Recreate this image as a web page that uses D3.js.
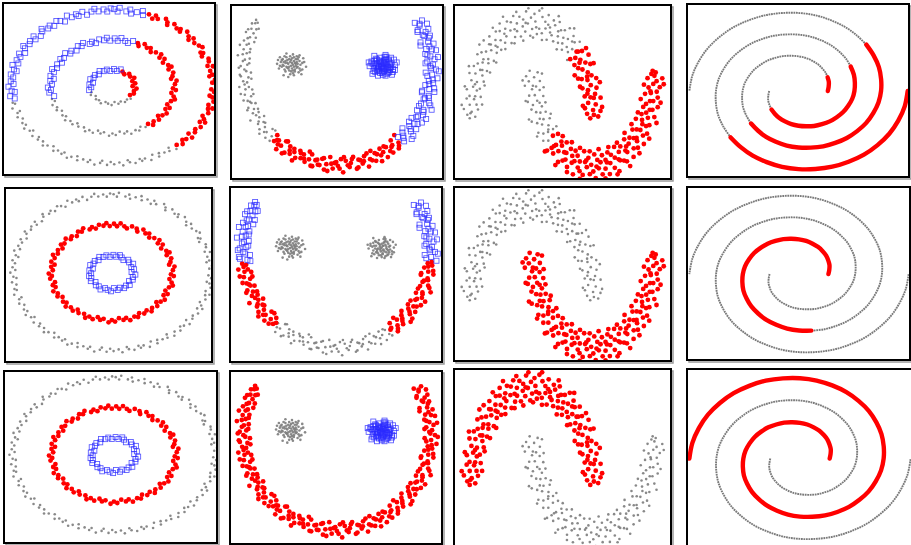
<!DOCTYPE html>
<html><head><meta charset="utf-8">
<script src="https://cdn.jsdelivr.net/npm/d3@7"></script>
<style>html,body{margin:0;padding:0;background:#fff;}svg{display:block;}</style>
</head><body>
<script>
// ---------- DATA ----------
// Column 1: three noisy rings, points as [compass angle (deg), radius]
const ringOuter = [[1,10.1],[3,9.8],[4,10.3],[8,9.9],[10,10.2],[11,9.7],[14,10.0],[17,10.3],[18,9.8],[21,10.1],[24,9.7],[25,10.2],[27,9.9],[31,10.3],[33,10.0],[34,9.7],[37,10.2],[40,9.9],[42,10.1],[43,9.8],[46,10.3],[49,10.0],[51,9.7],[52,10.2],[55,9.9],[58,10.1],[60,10.3],[63,9.8],[64,10.0],[66,9.7],[69,10.2],[71,10.1],[74,9.8],[75,10.3],[78,9.9],[81,10.0],[82,9.7],[85,10.2],[87,9.9],[90,10.3],[92,9.8],[94,10.1],[97,9.7],[98,10.0],[101,10.2],[104,9.8],[106,10.3],[107,9.9],[110,10.1],[113,9.7],[115,10.0],[117,10.3],[118,9.8],[121,10.2],[124,9.9],[126,10.1],[129,9.7],[130,10.3],[133,10.0],[135,9.8],[137,10.2],[140,9.9],[142,10.3],[145,9.7],[146,10.1],[149,10.0],[152,9.8],[153,10.2],[156,9.7],[158,10.3],[161,9.9],[163,10.1],[164,9.8],[167,10.2],[170,10.0],[171,9.7],[174,10.3],[176,9.9],[179,10.1],[181,9.8],[183,10.2],[186,9.7],[187,10.0],[190,10.3],[193,9.8],[194,10.1],[197,9.9],[200,10.2],[201,9.7],[204,10.0],[206,10.3],[209,9.8],[210,10.1],[213,9.9],[215,10.2],[217,9.7],[220,10.0],[222,10.3],[224,9.9],[227,10.1],[228,9.8],[231,10.2],[234,9.7],[235,10.0],[238,10.3],[240,9.9],[242,10.1],[245,9.8],[247,10.2],[250,10.0],[251,9.7],[254,10.3],[257,9.9],[258,10.1],[261,9.8],[263,10.2],[266,9.7],[267,10.0],[270,10.3],[272,9.8],[274,10.1],[277,9.9],[279,10.2],[282,9.7],[283,10.0],[286,10.3],[288,9.8],[290,10.1],[293,9.9],[295,10.2],[297,9.7],[300,10.0],[301,10.3],[304,9.9],[306,10.1],[309,9.8],[310,10.2],[313,9.7],[316,10.0],[317,10.3],[320,9.9],[322,10.1],[324,9.8],[327,10.2],[329,10.0],[331,9.7],[334,10.3],[336,9.9],[339,10.1],[340,9.8],[343,10.2],[345,9.7],[348,10.0],[350,10.3],[352,9.9],[355,10.1],[357,9.8],[359,10.2]];
const ringMiddle = [[2,6.3],[5,6.0],[8,6.4],[12,6.1],[15,5.9],[19,6.3],[24,6.2],[26,5.9],[30,6.4],[34,6.1],[37,6.3],[40,5.9],[44,6.2],[49,6.4],[51,6.0],[55,6.3],[58,5.9],[63,6.2],[66,6.4],[68,6.0],[73,6.3],[77,6.1],[80,5.9],[83,6.4],[87,6.2],[92,6.0],[94,6.3],[98,5.9],[102,6.2],[105,6.4],[108,6.1],[113,5.9],[116,6.3],[119,6.0],[123,6.4],[127,6.2],[130,5.9],[133,6.3],[138,6.1],[141,6.4],[144,6.0],[148,6.2],[152,5.9],[155,6.3],[158,6.1],[163,6.4],[166,6.0],[169,6.2],[173,5.9],[177,6.3],[180,6.1],[183,6.4],[188,6.0],[191,6.2],[194,5.9],[198,6.3],[202,6.1],[205,6.4],[208,6.0],[213,6.2],[216,5.9],[219,6.3],[223,6.1],[227,6.4],[230,6.0],[233,6.2],[238,5.9],[241,6.3],[244,6.1],[248,6.4],[252,6.0],[255,6.2],[258,5.9],[263,6.3],[266,6.1],[269,6.4],[273,6.0],[277,6.2],[280,5.9],[283,6.3],[288,6.1],[291,6.4],[294,6.0],[298,6.2],[302,5.9],[305,6.3],[308,6.1],[313,6.4],[316,6.0],[319,6.2],[323,5.9],[327,6.3],[330,6.1],[333,6.4],[338,6.0],[341,6.2],[344,5.9],[348,6.3],[352,6.1],[355,6.4],[358,6.0]];
const ringInner = [[4,2.3],[12,2.1],[20,2.4],[27,2.2],[36,2.0],[45,2.35],[53,2.2],[62,2.45],[70,2.1],[79,2.3],[88,2.0],[96,2.4],[105,2.2],[113,2.3],[122,2.05],[131,2.4],[139,2.2],[148,2.35],[157,2.1],[165,2.3],[174,2.0],[182,2.4],[191,2.25],[199,2.1],[208,2.45],[217,2.2],[225,2.3],[234,2.05],[243,2.4],[251,2.2],[259,2.35],[268,2.1],[277,2.3],[285,2.0],[294,2.4],[302,2.2],[311,2.3],[320,2.1],[328,2.4],[337,2.2],[346,2.3],[354,2.05]];
// cluster labels per row: [fromAngle, toAngle, class]  (g = grey, r = red, b = blue)
const ringLabels = [
  {outer:[[0,18,'b'],[18,140,'r'],[140,260,'g'],[260,360,'b']], middle:[[0,23,'b'],[23,145,'r'],[145,257,'g'],[257,360,'b']], inner:[[0,25,'b'],[25,125,'r'],[125,255,'g'],[255,360,'b']]},
  {outer:[[0,360,'g']], middle:[[0,360,'r']], inner:[[0,360,'b']]},
  {outer:[[0,360,'g']], middle:[[0,360,'r']], inner:[[0,360,'b']]}
];

// Column 2: smiley. mouth = [compass angle, radius]; eyes = [dx, dy] around eye centres
const mouth = [[59,9.6],[60,10.4],[62,9.9],[63,10.7],[65,9.4],[67,10.2],[68,9.8],[70,10.5],[72,9.3],[73,10.1],[75,10.6],[77,9.7],[78,10.3],[80,9.5],[82,10.0],[83,10.8],[85,9.6],[87,10.2],[88,9.9],[90,10.5],[92,9.4],[93,10.1],[95,10.7],[97,9.8],[98,10.3],[100,9.5],[102,10.0],[103,10.6],[105,9.3],[107,10.2],[108,9.8],[110,10.4],[112,9.6],[113,10.9],[115,10.1],[117,9.5],[118,10.3],[120,9.9],[122,10.6],[123,9.4],[125,10.0],[127,10.5],[128,9.7],[130,10.2],[132,9.3],[133,10.8],[135,9.9],[137,10.4],[138,9.6],[140,10.1],[142,10.6],[143,9.4],[145,10.0],[147,10.3],[148,9.7],[150,10.7],[152,9.5],[153,10.2],[155,9.9],[157,10.5],[158,9.3],[160,10.1],[162,10.8],[163,9.6],[165,10.3],[167,9.8],[168,10.6],[170,9.4],[172,10.0],[173,10.4],[175,9.7],[177,10.9],[178,9.5],[180,10.2],[182,9.9],[183,10.5],[185,9.3],[187,10.1],[188,10.7],[190,9.6],[192,10.3],[193,9.8],[195,10.6],[197,9.4],[198,10.0],[200,10.4],[202,9.7],[203,10.2],[205,9.5],[207,10.8],[208,9.9],[210,10.3],[212,9.6],[213,10.5],[215,9.3],[217,10.1],[218,10.7],[220,9.8],[222,10.2],[223,9.5],[225,10.0],[227,10.6],[228,9.4],[230,10.3],[232,9.9],[233,10.5],[235,9.7],[237,10.1],[238,9.3],[240,10.8],[242,9.6],[243,10.2],[245,9.9],[247,10.4],[248,9.5],[250,10.0],[252,10.6],[253,9.7],[255,10.3],[257,9.4],[258,10.1],[260,10.7],[262,9.8],[263,10.2],[265,9.6],[267,10.5],[268,9.3],[270,10.0],[272,10.4],[273,9.7],[275,10.2],[277,9.5],[278,10.8],[280,9.9],[282,10.3],[283,9.6],[285,10.1],[287,10.5],[288,9.4],[290,10.0],[292,10.6],[293,9.8],[295,10.2],[297,9.5],[298,10.4],[300,9.9],[301,10.2],
  [61,10.0],[64,9.5],[66,10.6],[69,9.9],[71,10.3],[74,9.2],[76,10.1],[79,10.7],[81,9.7],[84,10.4],[86,9.4],[89,10.0],[91,10.8],[94,9.6],[96,10.2],[99,9.9],[101,10.5],[104,9.3],[106,10.1],[109,9.7],[111,10.6],[114,9.5],[116,10.2],[119,10.8],[121,9.8],[124,10.3],[126,9.4],[129,10.0],[131,10.7],[134,9.6],[136,10.1],[139,9.2],[141,10.4],[144,9.9],[146,10.6],[149,9.5],[151,10.0],[154,10.8],[156,9.7],[159,10.3],[161,9.4],[164,10.1],[166,9.9],[169,10.7],[171,9.6],[174,10.2],[176,9.3],[179,10.5],[181,9.8],[184,10.0],[186,10.8],[189,9.5],[191,10.3],[194,9.9],[196,10.6],[199,9.2],[201,10.1],[204,9.7],[206,10.4],[209,9.6],[211,10.0],[214,10.7],[216,9.4],[219,10.2],[221,9.9],[224,10.5],[226,9.3],[229,10.1],[231,10.8],[234,9.6],[236,10.3],[239,9.8],[241,10.0],[244,9.5],[246,10.6],[249,9.9],[251,10.2],[254,9.4],[256,10.7],[259,9.7],[261,10.1],[264,9.3],[266,10.4],[269,9.8],[271,10.6],[274,9.5],[276,10.0],[279,10.3],[281,9.6],[284,10.8],[286,9.9],[289,10.2],[291,9.4],[294,10.5],[296,9.7],[299,10.1]];
const leftEyeCentre = [-5.0, 0.5];
const rightEyeCentre = [4.8, 0.35];
const leftEye = [[0.1,0.2],[-0.4,0.5],[0.6,-0.3],[-0.8,-0.1],[0.3,0.8],[-0.2,-0.6],[0.9,0.4],[-1.1,0.3],[0.5,0.1],[-0.5,-0.2],[0.2,-0.9],[1.2,-0.5],[-0.7,0.9],[0.0,-0.1],[0.7,0.6],[-1.3,-0.4],[0.4,-0.5],[-0.3,0.1],[1.0,0.0],[-0.9,0.6],[0.2,1.1],[-0.1,-1.0],[0.8,-0.8],[-0.6,-0.7],[1.4,0.3],[-1.5,0.1],[0.3,0.4],[-0.4,-0.3],[0.6,0.9],[-0.2,0.6],[1.1,-1.0],[-0.8,-1.1],[0.0,0.5],[0.5,-0.1],[-1.0,-0.2],[0.9,1.0],[-0.5,1.2],[0.1,-0.4],[-0.3,-1.3],[1.3,0.7],[-1.2,0.8],[0.4,0.2],[-0.1,0.3],[0.7,-0.2],[-0.6,0.2],[0.2,-0.6],[1.6,-0.2],
  [0.3,-0.2],[-0.6,0.4],[0.9,-0.4],[-1.0,0.5],[0.1,0.7],[-0.3,-0.4],[0.6,0.3],[-0.7,-0.5],[0.4,-0.7],[-0.1,0.9],[1.2,0.2],[-1.2,-0.1],[0.7,0.1],[-0.4,0.2],[0.0,-0.7],[0.5,0.6],[-0.9,0.0],[1.0,-0.6],[-0.5,0.8],[0.2,0.0],[-0.2,-0.2],[0.8,0.8],[-1.4,0.5],[0.3,-1.1],[-0.8,0.3]];
const rightEye = [[0.0,0.1],[0.5,-0.4],[-0.6,0.3],[0.8,0.2],[-0.3,-0.7],[0.2,0.6],[-0.9,-0.2],[1.1,-0.6],[-0.4,0.0],[0.4,0.4],[-0.1,-0.3],[0.9,0.9],[-1.2,0.5],[0.3,-1.0],[-0.7,0.8],[0.6,-0.1],[-0.2,0.4],[1.3,0.1],[-1.0,-0.5],[0.1,-0.6],[0.7,0.5],[-0.5,-1.0],[0.2,1.0],[-1.4,0.0],[1.0,-0.9],[-0.2,-0.1],[0.5,0.2],[-0.8,0.3],[0.3,-0.3],[-0.3,0.9],[1.5,0.4],[-0.6,-0.4],[0.8,-0.4],[0.0,-0.9],[-1.1,-0.8],[0.4,0.8],[-0.4,0.6],[1.2,0.7],[0.1,0.3],[-0.9,1.1],[0.6,-0.7],[-0.1,0.0],[0.9,-0.1],[-1.5,0.4],[0.3,1.2],[0.1,-0.2],[-0.5,-0.1],
  [0.2,0.3],[-0.4,-0.5],[0.7,-0.2],[-0.7,0.0],[0.3,0.7],[-0.2,0.2],[0.6,0.7],[-1.0,0.2],[0.9,0.3],[-0.5,-0.3],[0.1,-0.5],[1.1,-0.3],[-0.8,-0.6],[0.4,-0.8],[-0.3,0.5],[0.5,0.0],[-0.6,0.7],[1.3,-0.4],[-1.2,0.3],[0.0,0.5],[0.7,-0.6],[-0.1,-0.7],[0.4,1.0],[-0.9,0.6],[0.2,-0.1]];
const smileyLabels = [
  {mouth:[[58,138,'b'],[138,223,'r'],[223,302,'g']], leftEye:'g', rightEye:'b'},
  {mouth:[[58,95,'b'],[95,145,'r'],[145,220,'g'],[220,263,'r'],[263,302,'b']], leftEye:'g', rightEye:'g'},
  {mouth:[[58,302,'r']], leftEye:'g', rightEye:'b'}
];

// Column 3: two moons, points as [angle (deg, counter-clockwise), radius]
const upperMoonCentre = [0, 0];
const lowerMoonCentre = [1, 0.5];
const upperMoon = [[0,0.95],[1,1.08],[3,0.9],[4,1.12],[5,1.0],[7,0.87],[8,1.05],[10,0.93],[11,1.14],[13,0.98],[14,1.06],[15,0.89],[17,1.1],[18,0.96],[20,1.02],[21,0.88],[22,1.13],[24,0.99],[25,1.07],[27,0.91],[28,1.03],[29,0.86],[31,1.11],[32,0.97],[34,1.05],[35,0.92],[36,1.14],[38,1.0],[39,0.89],[41,1.08],[42,0.95],[43,1.03],[45,0.88],[46,1.12],[48,0.98],[49,1.06],[50,0.91],[52,1.1],[53,0.94],[55,1.02],[56,0.87],[57,1.13],[59,0.99],[60,1.07],[62,0.9],[63,1.04],[64,0.96],[66,1.11],[67,0.88],[69,1.05],[70,0.93],[71,1.09],[73,1.0],[74,0.86],[76,1.12],[77,0.97],[78,1.04],[80,0.91],[81,1.08],[83,0.95],[84,1.14],[85,0.89],[87,1.02],[88,1.1],[90,0.94],[91,1.06],[92,0.87],[94,1.0],[95,1.13],[97,0.92],[98,1.05],[99,0.98],[101,1.09],[102,0.88],[104,1.03],[105,0.95],[106,1.12],[108,0.9],[109,1.07],[111,0.99],[112,1.1],[113,0.86],[115,1.04],[116,0.96],[118,1.13],[119,0.91],[120,1.06],[122,0.97],[123,1.09],[125,0.88],[126,1.02],[127,0.94],[129,1.11],[130,0.9],[132,1.05],[133,0.98],[134,1.14],[136,0.87],[137,1.03],[139,0.95],[140,1.08],[141,0.92],[143,1.12],[144,1.0],[146,0.89],[147,1.06],[148,0.96],[150,1.1],[151,0.93],[153,1.04],[154,0.88],[155,1.13],[157,0.98],[158,1.07],[160,0.91],[161,1.02],[162,0.95],[164,1.11],[165,0.87],[167,1.05],[168,0.97],[169,1.09],[171,0.92],[172,1.03],[174,0.89],[175,1.12],[176,0.99],[178,1.06],[179,0.93],[180,1.02],
  [2,1.01],[6,1.15],[9,0.84],[12,1.03],[16,0.94],[19,1.17],[23,0.85],[26,1.0],[30,1.16],[33,0.83],[37,0.97],[40,1.15],[44,1.01],[47,0.84],[51,1.04],[54,1.17],[58,0.93],[61,0.83],[65,1.01],[68,1.16],[72,0.95],[75,1.02],[79,0.84],[82,1.17],[86,0.96],[89,0.85],[93,1.16],[96,1.01],[100,0.83],[103,1.15],[107,0.98],[110,0.84],[114,1.17],[117,1.0],[121,0.85],[124,1.15],[128,0.97],[131,1.03],[135,0.83],[138,1.16],[142,1.01],[145,0.84],[149,0.99],[152,1.17],[156,0.85],[159,1.0],[163,1.15],[166,0.96],[170,0.83],[173,1.16],[177,1.01]];
const lowerMoon = [[180,1.04],[181,0.91],[183,1.1],[184,0.97],[186,1.06],[187,0.88],[188,1.13],[190,0.95],[191,1.02],[193,0.9],[194,1.08],[195,0.99],[197,1.12],[198,0.86],[200,1.05],[201,0.94],[202,1.09],[204,0.92],[205,1.03],[207,0.97],[208,1.14],[209,0.89],[211,1.07],[212,0.96],[214,1.01],[215,0.87],[216,1.11],[218,0.93],[219,1.05],[221,0.98],[222,1.1],[223,0.9],[225,1.04],[226,0.95],[228,1.13],[229,0.88],[230,1.06],[232,0.99],[233,1.09],[235,0.91],[236,1.02],[237,0.94],[239,1.12],[240,0.87],[242,1.07],[243,0.97],[244,1.04],[246,0.9],[247,1.1],[249,0.96],[250,1.03],[251,0.89],[253,1.14],[254,0.93],[256,1.05],[257,0.98],[258,1.08],[260,0.86],[261,1.11],[263,0.95],[264,1.02],[265,0.92],[267,1.09],[268,0.99],[270,1.06],[271,0.88],[272,1.13],[274,0.94],[275,1.03],[277,0.97],[278,1.1],[279,0.9],[281,1.05],[282,0.96],[284,1.12],[285,0.89],[286,1.01],[288,0.93],[289,1.08],[291,0.98],[292,1.14],[293,0.87],[295,1.04],[296,0.95],[298,1.07],[299,0.91],[300,1.1],[302,0.99],[303,1.02],[305,0.88],[306,1.12],[307,0.96],[309,1.05],[310,0.92],[312,1.09],[313,0.97],[314,1.03],[316,0.89],[317,1.13],[319,0.94],[320,1.06],[321,0.99],[323,1.1],[324,0.86],[326,1.04],[327,0.95],[328,1.08],[330,0.91],[331,1.02],[333,0.97],[334,1.11],[335,0.9],[337,1.05],[338,0.93],[340,1.12],[341,0.98],[342,1.03],[344,0.88],[345,1.09],[347,0.96],[348,1.06],[349,0.92],[351,1.1],[352,0.99],[354,1.04],[355,0.89],[356,1.13],[358,0.95],[359,1.02],[360,0.97],
  [182,0.84],[185,1.16],[189,1.0],[192,0.83],[196,1.15],[199,0.97],[203,0.85],[206,1.17],[210,1.01],[213,0.83],[217,1.15],[220,0.96],[224,0.84],[227,1.16],[231,1.02],[234,0.85],[238,1.17],[241,0.98],[245,0.83],[248,1.15],[252,1.0],[255,0.84],[259,1.16],[262,0.97],[266,0.85],[269,1.17],[273,1.01],[276,0.83],[280,1.15],[283,0.99],[287,0.84],[290,1.16],[294,1.02],[297,0.85],[301,1.17],[304,0.96],[308,0.83],[311,1.15],[315,1.0],[318,0.84],[322,1.16],[325,0.98],[329,0.85],[332,1.17],[336,1.01],[339,0.83],[343,1.15],[346,0.97],[350,0.84],[353,1.16],[357,1.0]];
const moonLabels = [
  {upper:[[0,45,'r'],[45,180,'g']], lower:[[180,225,'g'],[225,360,'r']]},
  {upper:[[0,180,'g']], lower:[[180,360,'r']]},
  {upper:[[0,180,'r']], lower:[[180,360,'g']]}
];

// Column 4: two interleaved spirals (arm B = arm A turned by 180 deg); readings [angle, radius]
const spiralTheta = [0,10,20,30,40,50,60,70,80,90,100,110,120,130,140,150,160,170,180,190,200,210,220,230,240,250,260,270,280,290,300,310,320,330,340,350,360,370,380,390,400,410,420,430,440,450,460,470,480,490,500,510,520,530,540];
const spiralR = [8.8,9.2,9.7,10.1,10.6,11.0,11.5,11.9,12.4,12.8,13.2,13.7,14.1,14.6,15.0,15.5,15.9,16.4,16.8,17.2,17.7,18.1,18.6,19.0,19.5,19.9,20.4,20.8,21.2,21.7,22.1,22.6,23.0,23.5,23.9,24.4,24.8,25.2,25.7,26.1,26.6,27.0,27.5,27.9,28.4,28.8,29.2,29.7,30.1,30.6,31.0,31.5,31.9,32.4,32.8];
const spiralArmTurn = {A:0, B:180};
const spiralLabels = [
  {A:[[0,30,'r'],[30,220,'g'],[220,400,'r'],[400,540,'g']], B:[[0,40,'g'],[40,210,'r'],[210,400,'g'],[400,540,'r']]},
  {A:[[0,280,'r'],[280,540,'g']], B:[[0,540,'g']]},
  {A:[[0,540,'r']], B:[[0,540,'g']]}
];

// ---------- LAYOUT ----------
const W = 911, H = 545;
const boxes = [
  [[3,3,215,175],[231,5,443,179],[454,5,671,179],[687,4,909,177]],
  [[5,188,212,362],[230,187,442,362],[454,187,671,361],[687,187,910,360]],
  [[4,371,217,543],[230,371,442,544],[454,369,671,547],[687,369,912,547]]
];
const colDomains = [
  {x:[-10.84,10.16], y:[10.9,-11.5]},
  {x:[-11.43,11.25], y:[6.83,-11.59]},
  {x:[-1.277,2.27], y:[1.193,-0.639]},
  {x:[-33.5,33.2], y:[32.1,-31.7]}
];
const colour = {g:'#7c7c7c', r:'#ff0000', b:'#2a2aff'};
const RAD = Math.PI/180;

function segClass(segs, a){
  for (const s of segs) if (a >= s[0] && a <= s[1]) return s[2];
  return segs[segs.length-1][2];
}
function compassXY(a, r){ return [r*Math.sin(a*RAD), r*Math.cos(a*RAD)]; }
function mathXY(a, r, c){ return [c[0] + r*Math.cos(a*RAD), c[1] + r*Math.sin(a*RAD)]; }

const svg = d3.select('body').append('svg').attr('width', W).attr('height', H);
svg.append('rect').attr('width', W).attr('height', H).attr('fill', '#fff');

function pointsFor(col, row){
  const pts = [];
  if (col === 0){
    const L = ringLabels[row];
    [[ringOuter, L.outer],[ringMiddle, L.middle],[ringInner, L.inner]].forEach(([arr, segs]) => {
      arr.forEach(p => { const [x,y] = compassXY(p[0], p[1]); pts.push({x, y, c: segClass(segs, p[0])}); });
    });
  } else if (col === 1){
    const L = smileyLabels[row];
    mouth.forEach(p => { const [x,y] = compassXY(p[0], p[1]); pts.push({x, y, c: segClass(L.mouth, p[0])}); });
    leftEye.forEach(p => pts.push({x: leftEyeCentre[0] + p[0], y: leftEyeCentre[1] + p[1], c: L.leftEye}));
    rightEye.forEach(p => pts.push({x: rightEyeCentre[0] + p[0], y: rightEyeCentre[1] + p[1], c: L.rightEye}));
  } else if (col === 2){
    const L = moonLabels[row];
    upperMoon.forEach(p => { const [x,y] = mathXY(p[0], p[1], upperMoonCentre); pts.push({x, y, c: segClass(L.upper, p[0])}); });
    lowerMoon.forEach(p => { const [x,y] = mathXY(p[0], p[1], lowerMoonCentre); pts.push({x, y, c: segClass(L.lower, p[0])}); });
  }
  return pts;
}

boxes.forEach((rowBoxes, row) => {
  rowBoxes.forEach((b, col) => {
    const [x0, y0, x1, y1] = b;
    const g = svg.append('g');
    g.append('rect').attr('x', x0 + 2).attr('y', y0 + 2).attr('width', x1 - x0).attr('height', y1 - y0)
      .attr('fill', 'none').attr('stroke', '#9a9a9a').attr('stroke-width', 1.5);
    g.append('rect').attr('x', x0).attr('y', y0).attr('width', x1 - x0).attr('height', y1 - y0)
      .attr('fill', '#fff').attr('stroke', '#000').attr('stroke-width', 2);
    const clipId = `clip${row}${col}`;
    g.append('clipPath').attr('id', clipId).append('rect')
      .attr('x', x0 + 1).attr('y', y0 + 1).attr('width', x1 - x0 - 2).attr('height', y1 - y0 - 2);
    const inner = g.append('g').attr('clip-path', `url(#${clipId})`);
    const xs = d3.scaleLinear().domain(colDomains[col].x).range([x0, x1]);
    const ys = d3.scaleLinear().domain(colDomains[col].y).range([y0, y1]);

    if (col < 3){
      const pts = pointsFor(col, row);
      inner.append('g').selectAll('circle').data(pts.filter(p => p.c === 'g')).join('circle')
        .attr('cx', d => xs(d.x)).attr('cy', d => ys(d.y)).attr('r', 1.3)
        .attr('fill', colour.g).attr('fill-opacity', 0.9);
      inner.append('g').selectAll('circle').data(pts.filter(p => p.c === 'r')).join('circle')
        .attr('cx', d => xs(d.x)).attr('cy', d => ys(d.y)).attr('r', 2.4)
        .attr('fill', colour.r);
      const s = 5;
      inner.append('g').selectAll('rect').data(pts.filter(p => p.c === 'b')).join('rect')
        .attr('x', d => xs(d.x) - s/2).attr('y', d => ys(d.y) - s/2).attr('width', s).attr('height', s)
        .attr('fill', 'none').attr('stroke', colour.b).attr('stroke-width', 0.85).attr('stroke-opacity', 0.8);
    } else {
      const L = spiralLabels[row];
      const line = d3.line().x(d => xs(d[0])).y(d => ys(d[1])).curve(d3.curveCatmullRom);
      const segsAll = [];
      ['A','B'].forEach(arm => {
        L[arm].forEach(seg => {
          const pts = [];
          spiralTheta.forEach((t, i) => {
            if (t >= seg[0] && t <= seg[1]) pts.push(mathXY(t + spiralArmTurn[arm], spiralR[i], [0,0]));
          });
          segsAll.push({c: seg[2], pts});
        });
      });
      segsAll.filter(s => s.c === 'g').forEach(s => {
        inner.append('path').attr('d', line(s.pts)).attr('fill', 'none')
          .attr('stroke', '#7a7a7a').attr('stroke-width', 1.9).attr('stroke-dasharray', '1.8 0.7');
      });
      segsAll.filter(s => s.c === 'r').forEach(s => {
        inner.append('path').attr('d', line(s.pts)).attr('fill', 'none')
          .attr('stroke', colour.r).attr('stroke-width', 4.4).attr('stroke-linecap', 'round');
      });
    }
  });
});
</script>
</body></html>
